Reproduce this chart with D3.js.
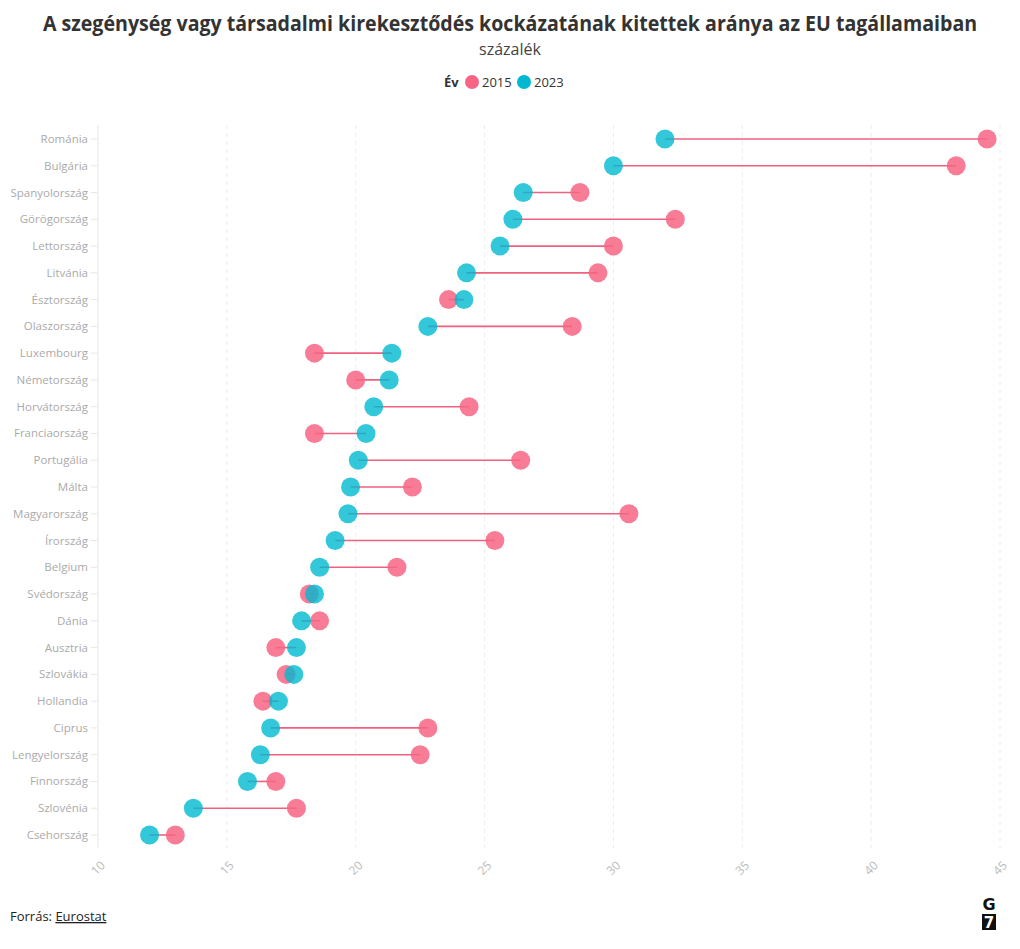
<!DOCTYPE html>
<html><head><meta charset="utf-8">
<script src="https://cdn.jsdelivr.net/npm/d3@7"></script>
<style>
body{margin:0;background:#fff;}
svg{display:block;font-family:"Source Sans Pro","Open Sans","Noto Sans",sans-serif;}
</style></head>
<body><svg id="c" width="1020" height="949"></svg>
<script>
const countries = ["Románia","Bulgária","Spanyolország","Görögország","Lettország","Litvánia","Észtország","Olaszország","Luxembourg","Németország","Horvátország","Franciaország","Portugália","Málta","Magyarország","Írország","Belgium","Svédország","Dánia","Ausztria","Szlovákia","Hollandia","Ciprus","Lengyelország","Finnország","Szlovénia","Csehország"];
const v2015 = [44.5,43.3,28.7,32.4,30.0,29.4,23.6,28.4,18.4,20.0,24.4,18.4,26.4,22.2,30.6,25.4,21.6,18.2,18.6,16.9,17.3,16.4,22.8,22.5,16.9,17.7,13.0];
const v2023 = [32.0,30.0,26.5,26.1,25.6,24.3,24.2,22.8,21.4,21.3,20.7,20.4,20.1,19.8,19.7,19.2,18.6,18.4,17.9,17.7,17.6,17.0,16.7,16.3,15.8,13.7,12.0];
const xTicks = [10,15,20,25,30,35,40,45];
const years = ["2015","2023"];
const colors = ["#f76584","#00b9d1"];

const svg = d3.select("#c");
const L = 98, R = 1000, T = 125, B = 848;
const x = d3.scaleLinear().domain([10,45]).range([L,R]);
const y = d3.scalePoint().domain(countries).range([139,835]);

// title (horizontally condensed to the reference width)
const tg = svg.append("g");
const title = tg.append("text").attr("x",0).attr("y",0).attr("text-anchor","middle")
  .style("font-size","21px").style("font-weight","700").style("fill","#333")
  .text("A szegénység vagy társadalmi kirekesztődés kockázatának kitettek aránya az EU tagállamaiban");
const tw = title.node().getComputedTextLength();
tg.attr("transform",`translate(510,31) scale(${935/tw},1)`);
svg.append("text").attr("x",510).attr("y",55).attr("text-anchor","middle")
  .style("font-size","16px").style("fill","#444").text("százalék");

// legend
const lg = svg.append("g");
lg.append("text").attr("x",444).attr("y",87).style("font-size","13px").style("font-weight","700").style("fill","#333").text("Év");
[[472,482],[524,534]].forEach((p,i)=>{
  lg.append("circle").attr("cx",p[0]).attr("cy",82).attr("r",7).attr("fill",colors[i]);
  lg.append("text").attr("x",p[1]).attr("y",87).style("font-size","13px").style("fill","#333").text(years[i]);
});

// grid
svg.append("g").selectAll("line").data(xTicks).join("line")
  .attr("x1",d=>x(d)).attr("x2",d=>x(d)).attr("y1",T).attr("y2",B)
  .attr("stroke",d=>d===10?"#e6e6e6":"#ececec").attr("stroke-width",1)
  .attr("stroke-dasharray",d=>d===10?null:"4,4");

// x tick labels
svg.append("g").selectAll("text").data(xTicks).join("text")
  .attr("transform",d=>`translate(${x(d)},868) rotate(-45)`)
  .attr("text-anchor","middle").attr("dy","0.35em")
  .style("font-size","12px").style("fill","#bbb").text(d=>d);

// y axis ticks and labels
const yg = svg.append("g");
yg.selectAll("line").data(countries).join("line")
  .attr("x1",91).attr("x2",97).attr("y1",d=>y(d)).attr("y2",d=>y(d)).attr("stroke","#e6e6e6");
yg.selectAll("text").data(countries).join("text")
  .attr("x",88).attr("y",d=>y(d)).attr("dy","0.35em").attr("text-anchor","end")
  .style("font-size","11.5px").style("fill","#aaa").text(d=>d);

// dumbbells
const rows = countries.map((c,i)=>({c,a:v2015[i],b:v2023[i]}));
const g = svg.append("g");
g.selectAll("line").data(rows).join("line")
  .attr("x1",d=>x(d.a)).attr("x2",d=>x(d.b)).attr("y1",d=>y(d.c)).attr("y2",d=>y(d.c))
  .attr("stroke","#f0607f").attr("stroke-width",1.6);
g.selectAll("circle.a").data(rows).join("circle").attr("class","a")
  .attr("cx",d=>x(d.a)).attr("cy",d=>y(d.c)).attr("r",9.5).attr("fill",colors[0]).attr("fill-opacity",0.85);
g.selectAll("circle.b").data(rows).join("circle").attr("class","b")
  .attr("cx",d=>x(d.b)).attr("cy",d=>y(d.c)).attr("r",9.5).attr("fill",colors[1]).attr("fill-opacity",0.8);

// footer
const f = svg.append("text").attr("x",10).attr("y",921).style("font-size","13px").style("fill","#222");
f.append("tspan").text("Forrás: ");
f.append("tspan").style("text-decoration","underline").text("Eurostat");

// logo
svg.append("text").attr("x",989).attr("y",910).attr("text-anchor","middle")
  .style("font-size","16px").style("font-weight","900").style("fill","#111").style("font-family","'DejaVu Sans',sans-serif").text("G");
svg.append("rect").attr("x",982).attr("y",914).attr("width",14).attr("height",16).attr("fill","#111");
svg.append("text").attr("x",989).attr("y",928).attr("text-anchor","middle")
  .style("font-size","15px").style("font-weight","700").style("fill","#fff").style("font-family","'DejaVu Sans',sans-serif").text("7");
</script></body></html>
